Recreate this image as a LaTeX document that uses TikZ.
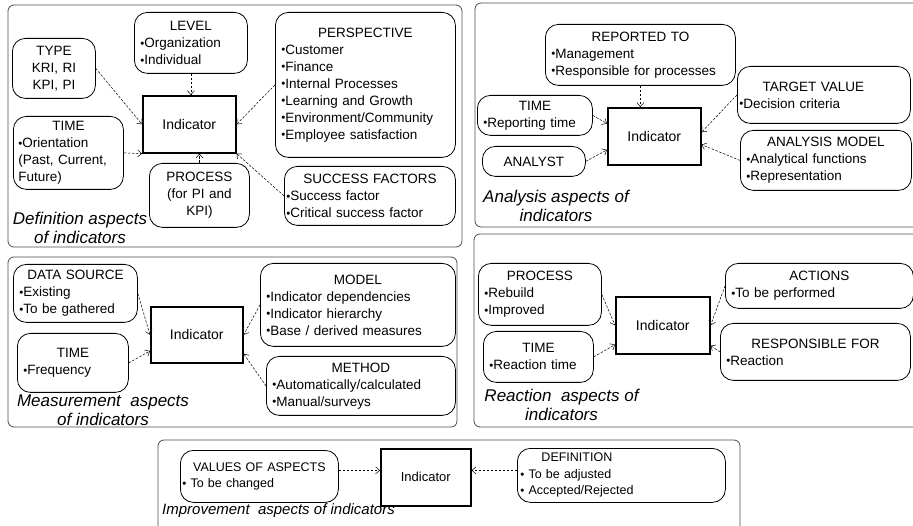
\documentclass[tikz,border=0pt]{standalone}
\usepackage{fontspec}
\setmainfont{Liberation Sans}
\usetikzlibrary{arrows.meta,positioning}
\newcommand\aspfont{\fontsize{13.5}{17}\selectfont}
\newcommand\botfont{\fontsize{12.5}{16.5}\selectfont}
\newcommand\indfont{\fontsize{14}{17}\selectfont}
\newcommand\lblfont{\fontsize{17}{18.5}\selectfont\itshape}
\newcommand\bul{\raisebox{.02em}{\fontsize{11.5}{11.5}\selectfont •}}
\newcommand\hd[2][\linewidth]{\makebox[#1]{#2}}
\tikzstyle{panel} = [draw=black!70, line width=.8pt, rounded corners=6pt]
\tikzstyle{aspect} = [draw, line width=.8pt, rounded corners=13pt,
    anchor=north west, inner xsep=6pt, inner ysep=1pt, align=left,
    font=\aspfont]
\tikzstyle{indic} = [draw, line width=1.6pt, anchor=north west,
    inner sep=0pt, font=\indfont]
\tikzstyle{lbl} = [inner sep=0pt, align=center, font=\lblfont]
\tikzstyle{link} = [->, dash pattern=on 2.5pt off 1.5pt, line width=.5pt]

\begin{document}
\begin{tikzpicture}[x=1pt,y=-1pt,>={Straight Barb[length=4pt,width=7pt]}]
\useasboundingbox (0,0) rectangle (913,526);

% definition aspects
\draw[panel] (8,5) rectangle (462,247);
\node (ind1) [indic,minimum width=93pt,minimum height=57pt] at (142,95) {Indicator};
\node (type) [aspect,align=center,text width=71pt,minimum height=60pt] at (12,38) {TYPE\\KRI, RI\\KPI, PI};
\node (level) [aspect,text width=101pt,minimum height=61pt] at (134,12) {\hd{LEVEL}\\\bul Organization\\\bul Individual};
\node (persp) [aspect,text width=168pt,minimum height=145pt] at (275,12) {\hd{PERSPECTIVE}\\\bul Customer\\\bul Finance\\\bul Internal Processes\\\bul Learning and Growth\\\bul Environment/Community\\\bul Employee satisfaction};
\node (time1) [aspect,inner xsep=5pt,text width=100pt,minimum height=73pt] at (13,116) {\hd{TIME}\\\bul Orientation\\(Past, Current,\\Future)};
\node (proc1) [aspect,align=center,text width=88pt,minimum height=64pt] at (149,163) {PROCESS\\(for PI and\\KPI)};
\node (succ) [aspect,inner xsep=2pt,text width=167pt,minimum height=59pt] at (284,166) {\hd{SUCCESS FACTORS}\\\bul Success factor\\\bul Critical success factor};
\node (lab1) [lbl] at (80,228) {Definition aspects\\of indicators};

\draw[link] (type.east) -- (ind1.west);
\draw[link] (level.south) -- (level.south |- ind1.north);
\draw[link] (persp.west) -- (ind1.east);
\draw[link] (time1.east) -- (ind1.south west);
\draw[link] (proc1.north) -- (proc1.north |- ind1.south);
\draw[link] (succ.west) -- (ind1.south east);

% analysis aspects
\draw[panel] (475,3) rectangle (925,227);
\node (ind2) [indic,minimum width=93pt,minimum height=57pt] at (607,107) {Indicator};
\node (rep) [aspect,text width=178pt,minimum height=61pt] at (545,24) {\hd{REPORTED TO}\\\bul Management\\\bul Responsible for processes};
\node (time2) [aspect,text width=103pt,minimum height=40pt] at (477,95) {\hd{TIME}\\\bul Reporting time};
\node (analyst) [aspect,align=center,text width=91pt,minimum height=30pt] at (482,146) {ANALYST};
\node (target) [aspect,inner xsep=2pt,text width=169pt,minimum height=57pt] at (737,66) {\hd[148pt]{TARGET VALUE}\\\bul Decision criteria};
\node (amodel) [aspect,text width=159pt,minimum height=60pt] at (740,130) {\hd{ANALYSIS MODEL}\\\bul Analytical functions\\\bul Representation};
\node (lab2) [lbl] at (556,206) {Analysis aspects of\\indicators};

\draw[link] (rep.south) -- (rep.south |- ind2.north);
\draw[link] (time2.east) -- (ind2.165);
\draw[link] (analyst.east) -- (ind2.196);
\draw[link] (target.west) -- (ind2.5);
\draw[link] (amodel.west) -- (ind2.-10);

% measurement aspects
\draw[panel] (8,257) rectangle (457,427);
\node (ind3) [indic,minimum width=92pt,minimum height=56pt] at (150,306) {Indicator};
\node (dsrc) [aspect,text width=112pt,minimum height=58pt] at (13,264) {\hd{DATA SOURCE}\\\bul Existing\\\bul To be gathered};
\node (time3) [aspect,text width=99pt,minimum height=59pt] at (17,333) {\hd{TIME}\\\bul Frequency};
\node (model) [aspect,text width=183pt,minimum height=83pt] at (260,263) {\hd{MODEL}\\\bul Indicator dependencies\\\bul Indicator hierarchy\\\bul Base / derived measures};
\node (method) [aspect,text width=177pt,minimum height=59pt] at (266,356) {\hd{METHOD}\\\bul Automatically/calculated\\\bul Manual/surveys};
\node (lab3) [lbl] at (103,410) {Measurement\ \ aspects\\of indicators};

\draw[link] (dsrc.east) -- (ind3.west);
\draw[link] (time3.east) -- (ind3.199);
\draw[link] (model.west) -- (ind3.east);
\draw[link] (method.west) -- (ind3.-22);

% reaction aspects
\draw[panel] (474,234) rectangle (925,427);
\node (ind4) [indic,minimum width=94pt,minimum height=57pt] at (615,296) {Indicator};
\node (proc4) [aspect,text width=111pt,minimum height=62pt] at (478,263) {\hd{PROCESS}\\\bul Rebuild\\\bul Improved};
\node (time4) [aspect,text width=98pt,minimum height=51pt] at (483,331) {\hd{TIME}\\\bul Reaction time};
\node (actions) [aspect,text width=176pt,minimum height=45pt] at (725,263) {\hd{ACTIONS}\\\bul To be performed};
\node (resp) [aspect,text width=178pt,minimum height=57pt] at (720,323) {\hd{RESPONSIBLE FOR}\\\bul Reaction};
\node (lab4) [lbl] at (561.5,405) {Reaction\ \ aspects of\\indicators};

\draw[link] (proc4.east) -- (ind4.west);
\draw[link] (time4.east) -- (ind4.202);
\draw[link] (actions.west) -- (ind4.east);
\draw[link] (resp.west) -- (ind4.-23);

% improvement aspects
\draw[panel] (158,440) rectangle (740,535);
\node (ind5) [indic,font=\fontsize{13}{16}\selectfont,minimum width=90pt,minimum height=57pt] at (380,448) {Indicator};
\node (values) [aspect,font=\botfont,inner xsep=2pt,text width=154pt,minimum height=52pt] at (180,450) {\hd{VALUES OF ASPECTS}\\\bul\ To be changed};
\node (defn) [aspect,font=\botfont,inner xsep=3pt,text width=202pt,minimum height=54pt] at (517,448) {\hd[113pt]{DEFINITION}\\\bul\ To be adjusted\\\bul\ Accepted/Rejected};
\node (lab5) [lbl,anchor=west,font=\fontsize{15}{17}\selectfont\itshape] at (162,511) {Improvement\ \ aspects of indicators};

\coordinate (v5) at ([yshift=6pt]values.east);
\coordinate (d5) at ([yshift=5pt]defn.west);
\draw[link] (v5) -- (v5 -| ind5.west);
\draw[link] (d5) -- (d5 -| ind5.east);

\end{tikzpicture}
\end{document}
